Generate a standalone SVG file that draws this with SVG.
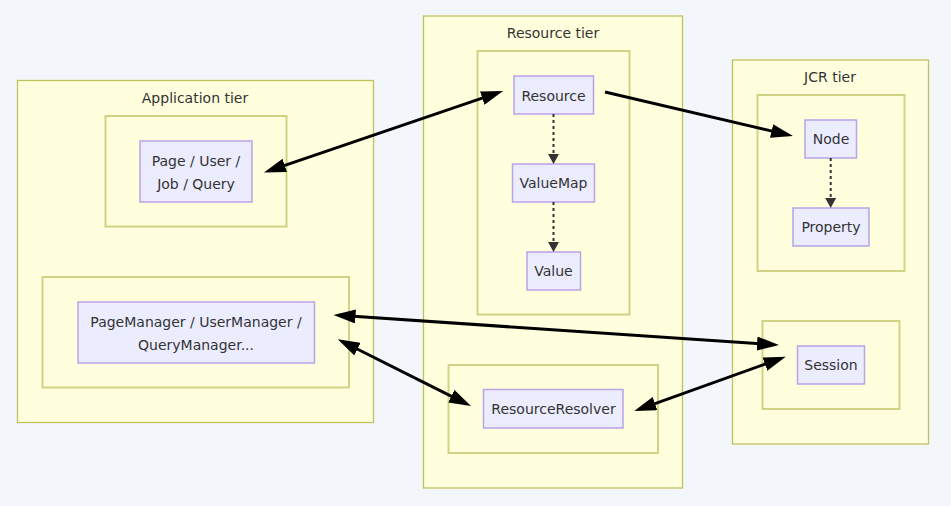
<svg xmlns="http://www.w3.org/2000/svg" width="951" height="506" viewBox="0 0 951 506">
<style>
.bg{fill:#f3f6fa}
.tier{fill:#ffffde;stroke:#c2c25c;stroke-width:1.3}
.sub{fill:#ffffde;stroke:#d2d284;stroke-width:2}
.node{fill:#ececff;stroke:#b9a3e8;stroke-width:1.5}
text{font-family:"DejaVu Sans",Verdana,sans-serif;font-size:14px;fill:#333;text-anchor:middle}
.edge{stroke:#000;stroke-width:3;fill:none}
.dot{stroke:#333;stroke-width:2;stroke-dasharray:3 3;fill:none}
</style>
<defs>
<marker id="ah" markerUnits="userSpaceOnUse" markerWidth="22" markerHeight="14" viewBox="0 0 22 14" refX="17" refY="7" orient="auto-start-reverse"><path d="M0,0 L22,7 L0,14 z" fill="#000"/></marker>
<marker id="dh" markerUnits="userSpaceOnUse" markerWidth="10" markerHeight="11" viewBox="0 0 10 11" refX="2" refY="5.5" orient="auto"><path d="M0,0 L10,5.5 L0,11 z" fill="#333"/></marker>
</defs>
<rect class="bg" x="0" y="0" width="951" height="506"/>

<g id="application-tier">
<rect class="tier" x="17.5" y="80.5" width="356" height="342"/>
<text x="195" y="103">Application tier</text>
<rect class="sub" x="105.5" y="116" width="181" height="110.5"/>
<rect class="sub" x="42.5" y="277" width="306.5" height="110.5"/>
</g>
<g id="resource-tier">
<rect class="tier" x="423.5" y="16" width="259" height="472"/>
<text x="553" y="38">Resource tier</text>
<rect class="sub" x="477.5" y="51" width="152" height="263.5"/>
<rect class="sub" x="448.5" y="365" width="209.5" height="88"/>
</g>
<g id="jcr-tier">
<rect class="tier" x="732.5" y="60" width="196" height="384"/>
<text x="830" y="82">JCR tier</text>
<rect class="sub" x="757.5" y="95" width="147" height="176"/>
<rect class="sub" x="762.5" y="321" width="137" height="88"/>
</g>

<g id="page-user">
<rect class="node" x="140" y="141" width="112" height="61"/>
<text x="196" y="166">Page / User /</text>
<text x="196" y="189">Job / Query</text>
</g>
<g id="page-manager">
<rect class="node" x="78" y="302" width="236.5" height="61"/>
<text x="196" y="327">PageManager / UserManager /</text>
<text x="196" y="350">QueryManager...</text>
</g>
<g id="resource">
<rect class="node" x="514" y="76" width="79.5" height="38"/>
<text x="553.5" y="101">Resource</text>
</g>
<g id="valuemap">
<rect class="node" x="512.5" y="164" width="82" height="38"/>
<text x="553.5" y="188">ValueMap</text>
</g>
<g id="value">
<rect class="node" x="527" y="252" width="53.5" height="38"/>
<text x="553.5" y="276">Value</text>
</g>
<g id="resource-resolver">
<rect class="node" x="483.5" y="389.5" width="139.5" height="38.5"/>
<text x="553.5" y="414">ResourceResolver</text>
</g>
<g id="node">
<rect class="node" x="805" y="120" width="51.5" height="38"/>
<text x="831" y="144">Node</text>
</g>
<g id="property">
<rect class="node" x="793" y="208" width="76" height="38"/>
<text x="831" y="232">Property</text>
</g>
<g id="session">
<rect class="node" x="797.5" y="346" width="67" height="38"/>
<text x="831" y="370">Session</text>
</g>

<g id="connectors">
<path class="edge" d="M268.7,170.9 L498.3,92.6" marker-start="url(#ah)" marker-end="url(#ah)"/>
<path class="edge" d="M605,92 L788.1,134.9" marker-end="url(#ah)"/>
<path class="edge" d="M338.5,315.3 L774,344.7" marker-start="url(#ah)" marker-end="url(#ah)"/>
<path class="edge" d="M342.2,341.5 L466.5,403.8" marker-start="url(#ah)" marker-end="url(#ah)"/>
<path class="edge" d="M639,409.3 L781,358.4" marker-start="url(#ah)" marker-end="url(#ah)"/>
<path class="dot" d="M553.5,114 L553.5,156" marker-end="url(#dh)"/>
<path class="dot" d="M553.5,202 L553.5,244" marker-end="url(#dh)"/>
<path class="dot" d="M830.7,158 L830.7,200" marker-end="url(#dh)"/>
</g>
</svg>
